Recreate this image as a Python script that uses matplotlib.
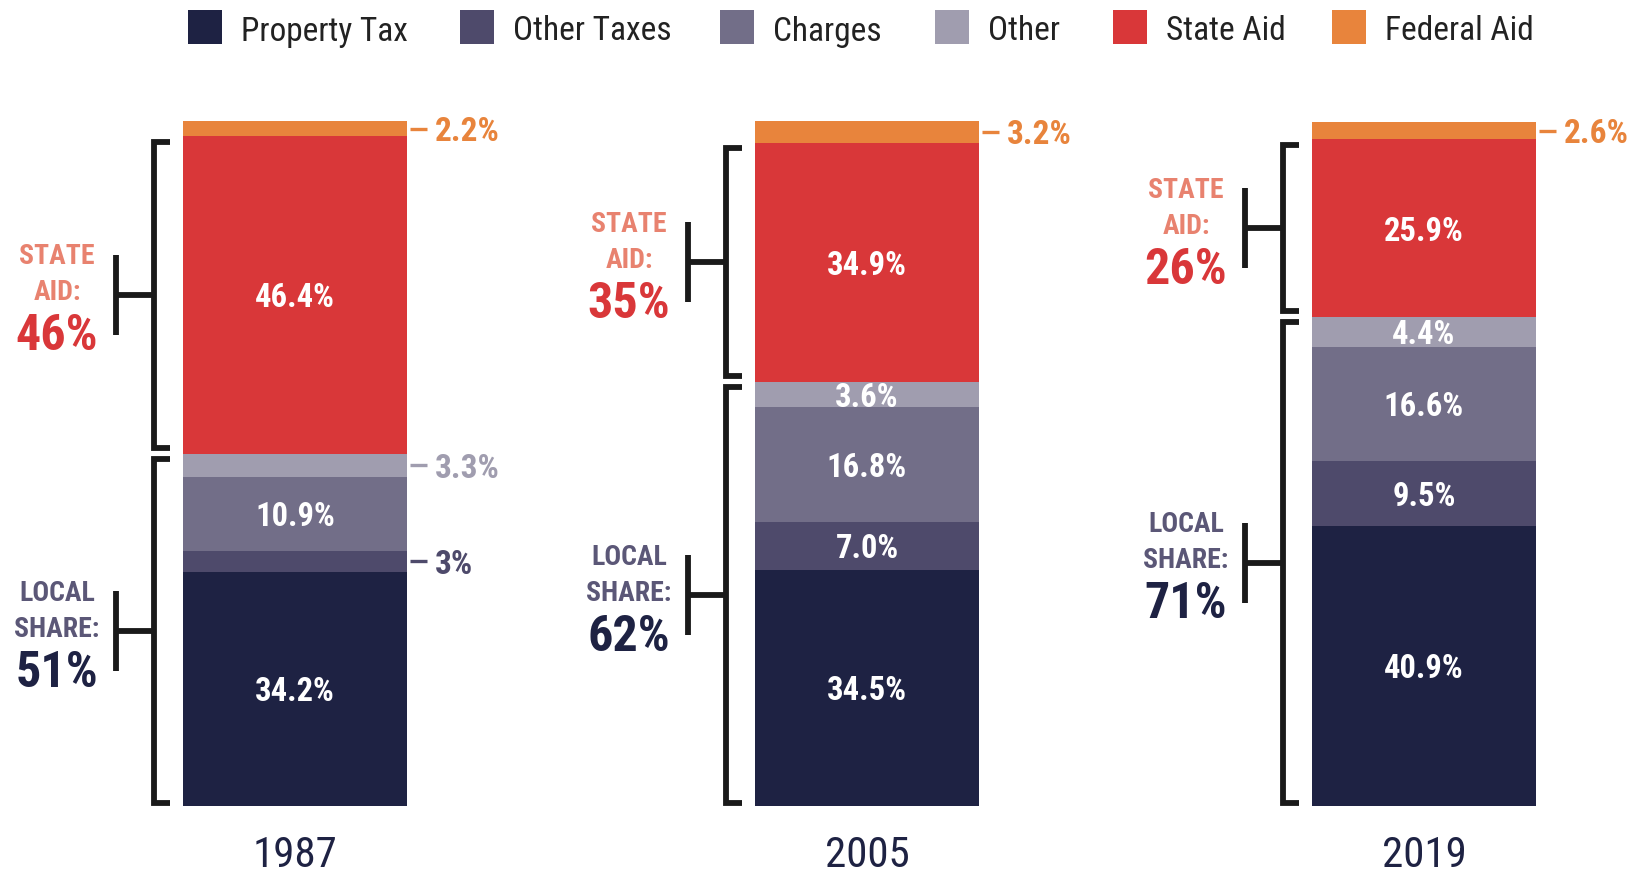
import matplotlib
matplotlib.use("Agg")
import matplotlib.pyplot as plt
from matplotlib.patches import Rectangle
from matplotlib import font_manager as fm

# ---------------- font choice (prefer a condensed face) ----------------
_entries = [(f.name, str(f.stretch)) for f in fm.fontManager.ttflist]
_names = {n for n, _ in _entries}
FAMILY, STRETCH = None, "normal"
for cand in ["Liberation Sans Narrow", "Roboto Condensed", "Open Sans Condensed",
             "Noto Sans Condensed", "DejaVu Sans Condensed"]:
    if cand in _names:
        FAMILY = cand
        break
if FAMILY is None:
    for n, s in _entries:
        if ("Narrow" in n or "Condensed" in n) and "Mono" not in n and "Serif" not in n:
            FAMILY = n
            break
if FAMILY is None:
    for base in ["Roboto", "Noto Sans", "Open Sans", "DejaVu Sans", "Inter"]:
        if any(n == base and "condensed" in s for n, s in _entries):
            FAMILY, STRETCH = base, "condensed"
            break
if FAMILY is None:
    FAMILY = "Roboto"
plt.rcParams['font.family'] = [FAMILY, 'DejaVu Sans']
plt.rcParams['font.stretch'] = STRETCH

# ---------------- data ----------------
categories = ["Property Tax", "Other Taxes", "Charges", "Other", "State Aid", "Federal Aid"]
years = ["1987", "2005", "2019"]
vals_1987 = [34.2, 3.0, 10.9, 3.3, 46.4, 2.2]
vals_2005 = [34.5, 7.0, 16.8, 3.6, 34.9, 3.2]
vals_2019 = [40.9, 9.5, 16.6, 4.4, 25.9, 2.6]
labels_1987 = ["34.2%", "3%", "10.9%", "3.3%", "46.4%", "2.2%"]
labels_2005 = ["34.5%", "7.0%", "16.8%", "3.6%", "34.9%", "3.2%"]
labels_2019 = ["40.9%", "9.5%", "16.6%", "4.4%", "25.9%", "2.6%"]

all_vals = [vals_1987, vals_2005, vals_2019]
all_labels = [labels_1987, labels_2005, labels_2019]

# ---------------- style ----------------
colors = ["#1E2243", "#4E4A6B", "#726E88", "#A09DAF", "#D93739", "#E8843C"]
state_lbl_color = "#E8826F"
local_lbl_color = "#5B5777"
bracket_color = "#1A1A1A"

W, H = 1634, 876
PX = 6.85          # pixels per percentage point
BASE = 806         # pixel row of the bar baseline


def py(p):
    return (BASE - p) / PX


def dy(p):
    return p / PX


fig = plt.figure(figsize=(W / 100, H / 100), dpi=100)
ax = fig.add_axes([0, 0, 1, 1])
ax.set_xlim(0, W)
ax.set_ylim(py(H), py(0))
ax.axis("off")

bar_centers = [295, 867, 1424]
bar_w = 224
bold = dict(fontweight="bold")
VA = "center_baseline"

for i, (vals, labs) in enumerate(zip(all_vals, all_labels)):
    xc = bar_centers[i]
    left = xc - bar_w / 2
    right = xc + bar_w / 2
    bottom = 0.0
    for j, v in enumerate(vals):
        ax.bar(xc, v, width=bar_w, bottom=bottom, color=colors[j], linewidth=0)
        mid = bottom + v / 2
        if v >= 3.5:
            ax.text(xc, mid, labs[j], color="white", ha="center", va=VA,
                    fontsize=23.5, **bold)
        else:
            ax.plot([right + 3, right + 20], [mid, mid], color=colors[j], lw=2.4,
                    solid_capstyle="butt")
            ax.text(right + 28, mid, labs[j], color=colors[j], ha="left",
                    va=VA, fontsize=24, **bold)
        bottom += v

    local = sum(vals[:4])
    state = vals[4]
    groups = [
        (0.0, local, ["LOCAL", "SHARE:"], f"{local:.0f}%", local_lbl_color, colors[0]),
        (local, local + state, ["STATE", "AID:"], f"{state:.0f}%", state_lbl_color, colors[4]),
    ]
    vx = left - 29
    tick_end = left - 13
    stem_x = vx - 38
    g = dy(5.5)
    for lo, hi, words, big, wcol, bcol in groups:
        top = hi - g
        bot = lo + (g if lo > 0 else dy(3))
        ax.plot([tick_end, vx, vx, tick_end], [top, top, bot, bot],
                color=bracket_color, lw=4.2, solid_joinstyle="miter",
                solid_capstyle="butt")
        m = (top + bot) / 2
        ax.plot([vx, stem_x], [m, m], color=bracket_color, lw=4.2,
                solid_capstyle="butt")
        ax.plot([stem_x, stem_x], [m - dy(40), m + dy(40)], color=bracket_color,
                lw=4.2, solid_capstyle="butt")
        tx = stem_x - 59
        ax.text(tx, m + dy(41), words[0], color=wcol, ha="center", va=VA,
                fontsize=20, **bold)
        ax.text(tx, m + dy(5), words[1], color=wcol, ha="center", va=VA,
                fontsize=20, **bold)
        ax.text(tx, m - dy(37), big, color=bcol, ha="center", va=VA,
                fontsize=36, **bold)

    ax.text(xc, py(851), years[i], color=colors[0], ha="center", va=VA,
            fontsize=31)

# ---------------- legend ----------------
leg_x = [188, 460, 720, 935, 1113, 1332]
sq = 34
for k, cat in enumerate(categories):
    ax.add_patch(Rectangle((leg_x[k], py(27 + sq / 2)), sq, dy(sq),
                           facecolor=colors[k], edgecolor="none"))
    ax.text(leg_x[k] + 53, py(28), cat, color="#222222", ha="left",
            va=VA, fontsize=24)

fig.savefig("out.png", dpi=100, facecolor="white")
